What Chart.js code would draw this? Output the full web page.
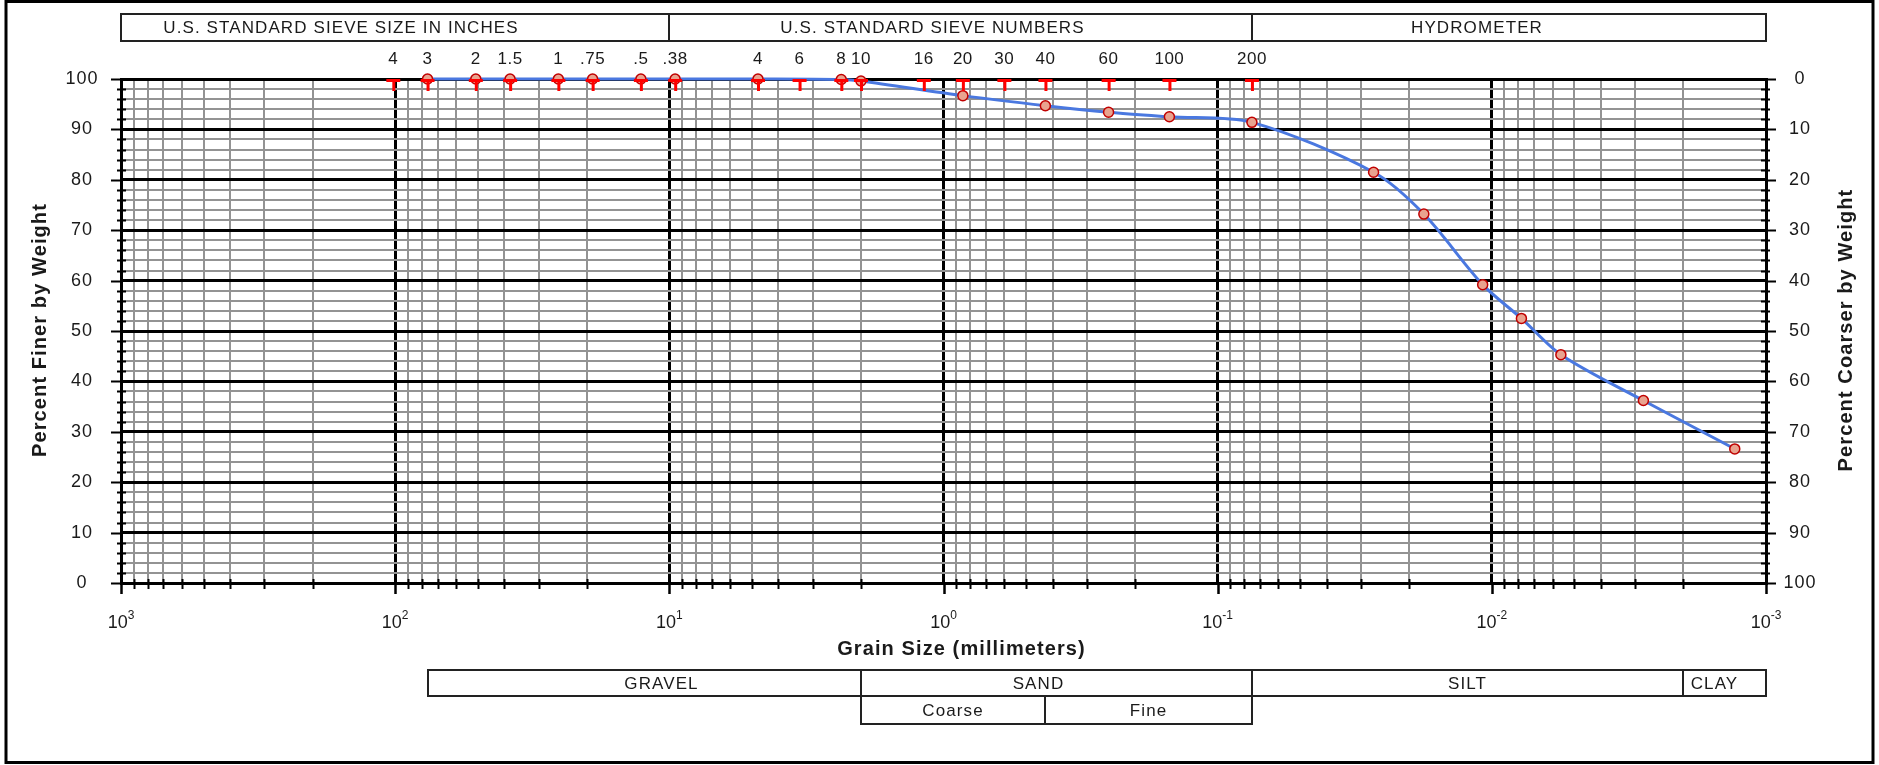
<!DOCTYPE html>
<html>
<head>
<meta charset="utf-8">
<title>Grain Size Distribution</title>
<script src="https://cdn.jsdelivr.net/npm/chart.js@4.4.1/dist/chart.umd.min.js"></script>
<style>
  html, body { margin: 0; padding: 0; background: #fff; }
  #wrap { width: 1879px; height: 765px; }
  canvas { display: block; }
</style>
</head>
<body>
<div id="wrap"><canvas id="gsd" width="1879" height="765"></canvas></div>
<script>
// grain sizes (mm) and percent finer
const grainSizes = [76.2, 50.8, 38.1, 25.4, 19.05, 12.7, 9.525, 4.75, 2.36, 2.0,
                    0.85, 0.425, 0.25, 0.15, 0.075,
                    0.027, 0.0177, 0.0108, 0.0078, 0.0056, 0.0028, 0.0013];
const percentFiner = [100, 100, 100, 100, 100, 100, 100, 100, 99.9, 99.6,
                      96.7, 94.7, 93.4, 92.5, 91.4,
                      81.5, 73.2, 59.2, 52.5, 45.3, 36.2, 26.6];

// sieve openings marked along the top edge
const sieveSizes  = [101.6, 76.2, 50.8, 38.1, 25.4, 19.05, 12.7, 9.525,
                     4.75, 3.35, 2.36, 2.0, 1.18, 0.85, 0.6, 0.425, 0.25, 0.15, 0.075];
const sieveLabels = ['4', '3', '2', '1.5', '1', '.75', '.5', '.38',
                     '4', '6', '8', '10', '16', '20', '30', '40', '60', '100', '200'];

// axis ticks
const xDecades   = [1000, 100, 10, 1, 0.1, 0.01, 0.001];
const xExponents = ['3', '2', '1', '0', '-1', '-2', '-3'];
const xMinorMult = [2, 3, 4, 5, 6, 7, 8, 9];
const yLabels    = [0, 10, 20, 30, 40, 50, 60, 70, 80, 90, 100];
const yMinorStep = 2;

// classification bands (edges in mm)
const topBandEdges  = [1000, 10, 0.075, 0.001];
const topBandLabels = ['U.S. STANDARD SIEVE SIZE IN INCHES', 'U.S. STANDARD SIEVE NUMBERS', 'HYDROMETER'];
const soilEdges     = [76.2, 2.0, 0.075, 0.002, 0.001];
const soilLabels    = ['GRAVEL', 'SAND', 'SILT', 'CLAY'];
const sandEdges     = [2.0, 0.425, 0.075];
const sandLabels    = ['Coarse', 'Fine'];

// label nudges (px) so text sits where the original has it
const topBandNudge = [-54, -28, -32];
const soilNudge    = [17, -18, 0, -10];

const FONT = '"Liberation Sans", Arial, sans-serif';
const INK = '#1a1a1a';
const MINOR_GRID = '#939393';

function isDecade(v) {
  const l = Math.log10(v);
  return Math.abs(l - Math.round(l)) < 1e-9;
}

// gridline values on the log axis
const xGridValues = [];
xDecades.forEach(d => {
  xGridValues.push(d);
  if (d > 0.001) xMinorMult.forEach(m => xGridValues.push(Number((m * d / 10).toPrecision(6))));
});
const yGridValues = [];
for (let v = 0; v <= 100; v += yMinorStep) yGridValues.push(v);

// red "T" marker for sieve positions
function makeSieveMark() {
  const c = document.createElement('canvas');
  c.width = 16; c.height = 28;
  const g = c.getContext('2d');
  g.fillStyle = '#ff0000';
  g.fillRect(1, 14, 14, 3);
  g.fillRect(7, 14, 3, 12);
  return c;
}

function setFont(ctx, spec, spacing) {
  ctx.font = spec + ' ' + FONT;
  ctx.letterSpacing = (spacing || 0) + 'px';
}

const decorations = {
  id: 'decorations',
  afterDraw(chart) {
    const { ctx, chartArea: a, scales: { x, y, y2 } } = chart;
    ctx.save();

    // outer frame
    ctx.strokeStyle = '#000';
    ctx.lineWidth = 3;
    ctx.strokeRect(6, 1.5, 1867, 761);

    // axis ticks
    ctx.strokeStyle = '#000';
    ctx.lineWidth = 2;
    yGridValues.forEach(v => {
      const py = Math.round(y.getPixelForValue(v)) + 0.5;
      ctx.beginPath();
      if (v % 10 === 0) {
        ctx.moveTo(a.left - 10, py); ctx.lineTo(a.left, py);
        ctx.moveTo(a.right, py); ctx.lineTo(a.right + 10, py);
      } else {
        ctx.moveTo(a.left - 4, py); ctx.lineTo(a.left + 5, py);
        ctx.moveTo(a.right - 5, py); ctx.lineTo(a.right + 4, py);
      }
      ctx.stroke();
    });
    xGridValues.forEach(v => {
      const px = Math.round(x.getPixelForValue(v)) + 0.5;
      ctx.beginPath();
      if (isDecade(v)) {
        ctx.lineWidth = 2.5;
        ctx.moveTo(px, a.bottom); ctx.lineTo(px, a.bottom + 11);
      } else {
        ctx.lineWidth = 2;
        ctx.moveTo(px, a.bottom - 4); ctx.lineTo(px, a.bottom + 6);
      }
      ctx.stroke();
    });

    ctx.fillStyle = INK;
    ctx.textBaseline = 'middle';
    ctx.textAlign = 'center';

    // y tick labels, both sides
    setFont(ctx, '18px', 1);
    yLabels.forEach(v => {
      ctx.fillText(String(v), a.left - 39, y.getPixelForValue(v));
      ctx.fillText(String(v), a.right + 34, y2.getPixelForValue(v));
    });

    // x decade labels with superscripts
    ctx.textBaseline = 'alphabetic';
    ctx.textAlign = 'left';
    xDecades.forEach((d, i) => {
      const px = x.getPixelForValue(d);
      setFont(ctx, '18px', 0);
      const wb = ctx.measureText('10').width;
      setFont(ctx, '12px', 0);
      const we = ctx.measureText(xExponents[i]).width;
      const x0 = px - (wb + we) / 2;
      setFont(ctx, '18px', 0);
      ctx.fillText('10', x0, a.bottom + 45);
      setFont(ctx, '12px', 0);
      ctx.fillText(xExponents[i], x0 + wb, a.bottom + 36);
    });

    // sieve labels along the top
    ctx.textAlign = 'center';
    ctx.textBaseline = 'middle';
    setFont(ctx, '17px', 0.5);
    sieveSizes.forEach((s, i) => {
      ctx.fillText(sieveLabels[i], x.getPixelForValue(s), a.top - 20);
    });

    // axis titles
    setFont(ctx, 'bold 20px', 1.1);
    ctx.fillText('Grain Size (millimeters)', (a.left + a.right) / 2 + 18, a.bottom + 66);
    const midY = (a.top + a.bottom) / 2;
    ctx.save();
    ctx.translate(40, midY - 1); ctx.rotate(-Math.PI / 2);
    ctx.fillText('Percent Finer by Weight', 0, 0);
    ctx.restore();
    ctx.save();
    ctx.translate(1846, midY - 1); ctx.rotate(-Math.PI / 2);
    ctx.fillText('Percent Coarser by Weight', 0, 0);
    ctx.restore();

    // banded boxes
    function bands(edges, labels, top, bottom, nudge) {
      ctx.strokeStyle = '#222';
      ctx.lineWidth = 2;
      setFont(ctx, '17px', 1.1);
      for (let i = 0; i < labels.length; i++) {
        const x1 = Math.round(x.getPixelForValue(edges[i]));
        const x2 = Math.round(x.getPixelForValue(edges[i + 1]));
        ctx.strokeRect(x1, top, x2 - x1, bottom - top);
        ctx.fillText(labels[i], (x1 + x2) / 2 + (nudge ? nudge[i] : 0), (top + bottom) / 2 + 1);
      }
    }
    bands(topBandEdges, topBandLabels, 14, 41, topBandNudge);
    bands(soilEdges, soilLabels, 670, 696, soilNudge);
    bands(sandEdges, sandLabels, 696, 724, null);

    ctx.restore();
  }
};

const gridColor = major => major ? '#000' : MINOR_GRID;

new Chart(document.getElementById('gsd'), {
  type: 'scatter',
  data: {
    datasets: [
      {
        label: 'Sieves',
        data: sieveSizes.map(s => ({ x: s, y: 100 })),
        pointStyle: makeSieveMark(),
        showLine: false,
        clip: false,
        order: 0
      },
      {
        label: 'Gradation',
        data: grainSizes.map((s, i) => ({ x: s, y: percentFiner[i] })),
        showLine: true,
        borderColor: '#4a78e0',
        borderWidth: 3,
        tension: 0.3,
        pointRadius: 5,
        pointBorderWidth: 1.5,
        pointBorderColor: '#c00000',
        pointBackgroundColor: '#e9a38f',
        clip: false,
        order: 1
      }
    ]
  },
  options: {
    responsive: false,
    animation: false,
    devicePixelRatio: 1,
    layout: { padding: { left: 121, top: 79, right: 113, bottom: 182 } },
    plugins: { legend: { display: false }, tooltip: { enabled: false } },
    scales: {
      x: {
        type: 'logarithmic',
        min: 0.001,
        max: 1000,
        reverse: true,
        afterBuildTicks: s => { s.ticks = xGridValues.map(v => ({ value: v })); },
        ticks: { display: false },
        grid: {
          drawTicks: false,
          color: c => gridColor(isDecade(c.tick.value)),
          lineWidth: c => isDecade(c.tick.value) ? 3 : 2
        },
        border: { display: true, color: '#000', width: 3 }
      },
      y: {
        type: 'linear',
        position: 'left',
        min: 0,
        max: 100,
        afterBuildTicks: s => { s.ticks = yGridValues.map(v => ({ value: v })); },
        ticks: { display: false },
        grid: {
          drawTicks: false,
          color: c => gridColor(c.tick.value % 10 === 0),
          lineWidth: c => c.tick.value % 10 === 0 ? 3 : 2
        },
        border: { display: true, color: '#000', width: 3 }
      },
      y2: {
        type: 'linear',
        position: 'right',
        min: 0,
        max: 100,
        reverse: true,
        ticks: { display: false },
        grid: { display: false, drawTicks: false },
        border: { display: true, color: '#000', width: 3 }
      }
    }
  },
  plugins: [decorations]
});
</script>
</body>
</html>
